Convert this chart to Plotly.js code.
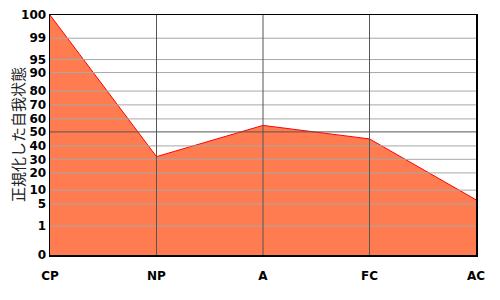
<!DOCTYPE html>
<html>
<head>
<meta charset="utf-8">
<script src="https://cdn.plot.ly/plotly-3.0.1.min.js"></script>
<style>html,body{margin:0;padding:0;background:#fff;}#chart{width:500px;height:300px;}</style>
</head>
<body>
<div id="chart"></div>
<script>
// Data
const categories = ['CP', 'NP', 'A', 'FC', 'AC'];
const values = [100, 32, 55, 45, 6.5];
// Custom (probability-like) y scale: tick label value -> axis unit
const tickLabels = [0, 1, 5, 10, 20, 30, 40, 50, 60, 70, 80, 90, 95, 99, 100];
const tickUnits = [0, 12.09, 21.27, 27.02, 34.20, 39.87, 45.45, 51.29, 56.71, 62.55, 68.31, 76.02, 81.44, 90.33, 100];
const yTitle = '正規化した自我状態';

function scaleY(v) {
  for (let i = 0; i < tickLabels.length - 1; i++) {
    const a = tickLabels[i], b = tickLabels[i + 1];
    if (v >= a && v <= b) {
      return tickUnits[i] + (v - a) / (b - a) * (tickUnits[i + 1] - tickUnits[i]);
    }
  }
  return v <= 0 ? 0 : 100;
}

const yMapped = values.map(scaleY);

const shapes = [];
tickLabels.forEach(t => {
  if (t === 0 || t === 100) return;
  shapes.push({type: 'line', xref: 'paper', yref: 'y', x0: 0, x1: 1, y0: scaleY(t), y1: scaleY(t),
    line: {color: t === 50 ? '#555555' : '#a8a8a8', width: 1}, layer: 'above'});
});
categories.forEach((c, i) => {
  if (i === 0 || i === categories.length - 1) return;
  shapes.push({type: 'line', xref: 'x', yref: 'paper', x0: i, x1: i, y0: 0, y1: 1,
    line: {color: '#555555', width: 1}, layer: 'above'});
});

const trace = {
  x: categories,
  y: yMapped,
  type: 'scatter',
  mode: 'lines',
  fill: 'tozeroy',
  fillcolor: '#FF7B50',
  line: {color: '#ff0000', width: 1},
  hoverinfo: 'skip'
};

const layout = {
  width: 500, height: 300,
  margin: {l: 50, r: 24, t: 15, b: 45},
  paper_bgcolor: '#ffffff', plot_bgcolor: '#ffffff',
  showlegend: false,
  shapes: shapes,
  annotations: [{
    text: yTitle, xref: 'paper', yref: 'paper', x: 0, y: 0.5,
    xanchor: 'center', yanchor: 'middle', xshift: -33, textangle: -90, showarrow: false,
    font: {family: 'Noto Sans CJK JP', size: 15, color: '#222222'}
  }],
  xaxis: {
    type: 'category', range: [0, 4],
    showgrid: false, zeroline: false,
    showline: true, mirror: true, linecolor: '#000000', linewidth: 1.5,
    ticks: '', ticklabelstandoff: 9,
    tickfont: {family: 'DejaVu Sans', size: 12, color: '#000000', weight: 'bold'},
    layer: 'above traces', fixedrange: true
  },
  yaxis: {
    range: [0, 100],
    tickmode: 'array',
    tickvals: tickLabels.map(scaleY),
    ticktext: tickLabels.map(String),
    showgrid: false, zeroline: false,
    showline: true, mirror: true, linecolor: '#000000', linewidth: 1.5,
    ticks: '',
    tickfont: {family: 'DejaVu Sans', size: 12, color: '#000000', weight: 'bold'},
    layer: 'above traces', fixedrange: true
  }
};

Plotly.newPlot('chart', [trace], layout, {displayModeBar: false, staticPlot: true});
</script>
</body>
</html>
